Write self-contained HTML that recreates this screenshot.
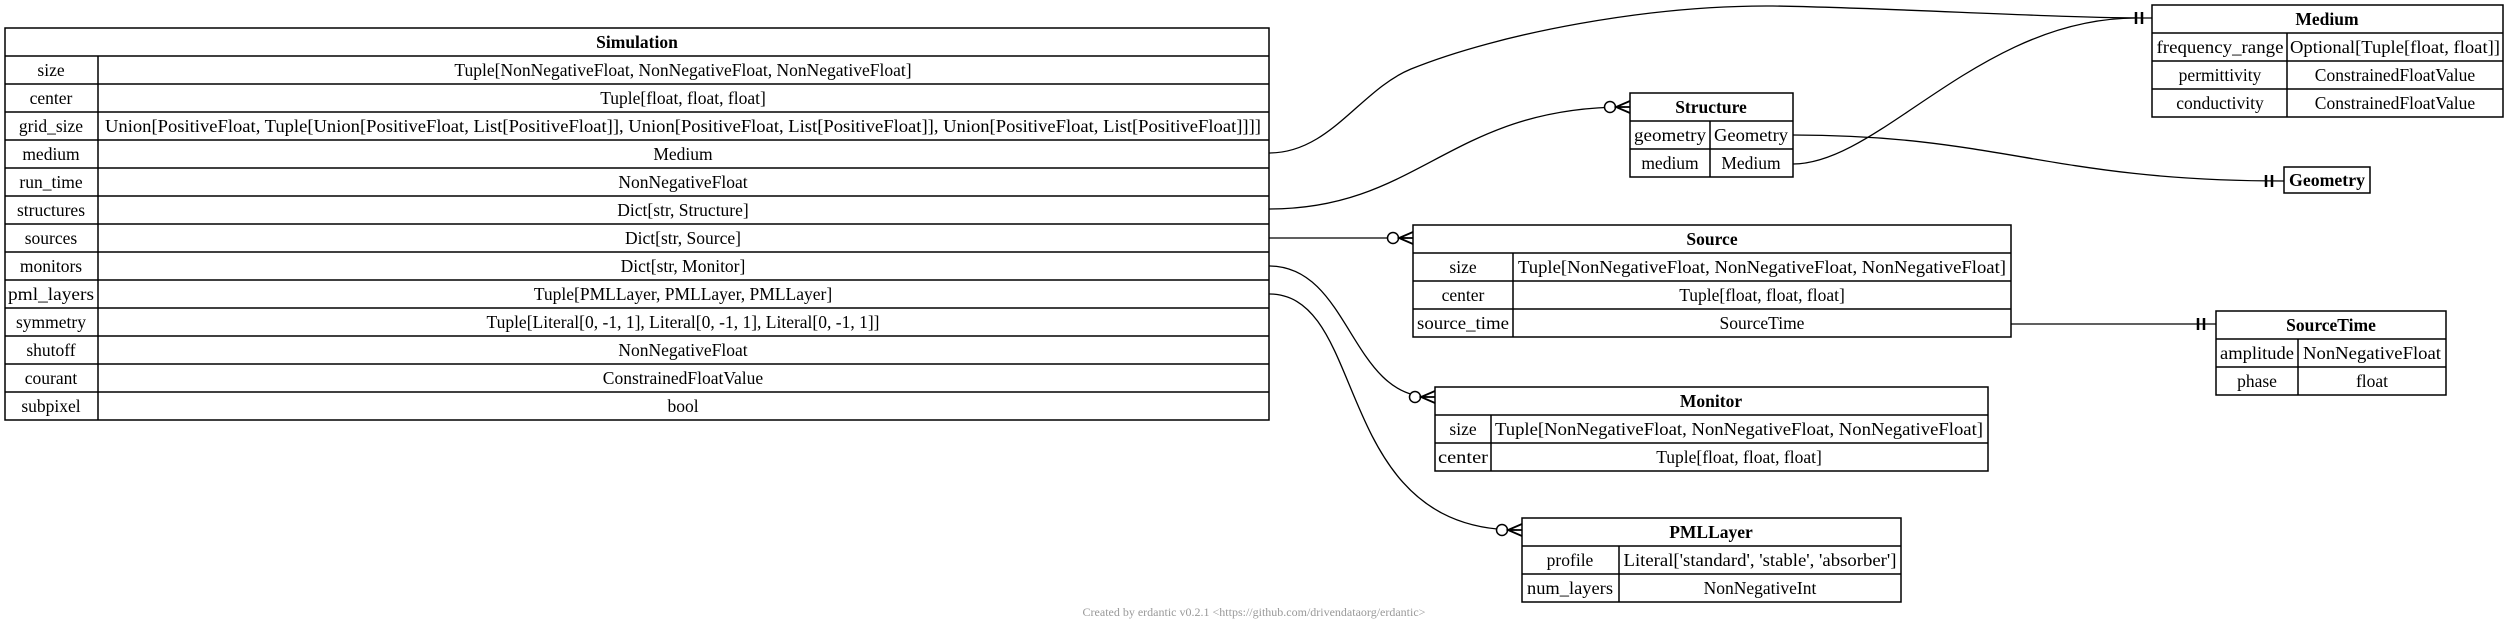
<!DOCTYPE html>
<html><head><meta charset="utf-8"><style>
html,body{margin:0;padding:0;background:#fff;}
svg{display:block;}
text{font-family:"Liberation Serif",serif;font-size:17.5px;fill:#000;}
.b{font-weight:bold;}
.f{font-size:12px;fill:#999;}
</style></head><body>
<svg width="2509" height="631" viewBox="0 0 2509 631" xmlns="http://www.w3.org/2000/svg">
<g fill="none" stroke="#000" stroke-width="1.5">
<rect x="5" y="28" width="1264" height="392"/>
<line x1="5" y1="56" x2="1269" y2="56"/><line x1="5" y1="84" x2="1269" y2="84"/><line x1="5" y1="112" x2="1269" y2="112"/><line x1="5" y1="140" x2="1269" y2="140"/><line x1="5" y1="168" x2="1269" y2="168"/><line x1="5" y1="196" x2="1269" y2="196"/><line x1="5" y1="224" x2="1269" y2="224"/><line x1="5" y1="252" x2="1269" y2="252"/><line x1="5" y1="280" x2="1269" y2="280"/><line x1="5" y1="308" x2="1269" y2="308"/><line x1="5" y1="336" x2="1269" y2="336"/><line x1="5" y1="364" x2="1269" y2="364"/><line x1="5" y1="392" x2="1269" y2="392"/>
<line x1="98" y1="56" x2="98" y2="420"/>
<rect x="2152" y="5" width="351" height="112"/>
<line x1="2152" y1="33" x2="2503" y2="33"/><line x1="2152" y1="61" x2="2503" y2="61"/><line x1="2152" y1="89" x2="2503" y2="89"/>
<line x1="2287" y1="33" x2="2287" y2="117"/>
<rect x="1630" y="93" width="163" height="84"/>
<line x1="1630" y1="121" x2="1793" y2="121"/><line x1="1630" y1="149" x2="1793" y2="149"/>
<line x1="1710" y1="121" x2="1710" y2="177"/>
<rect x="2284" y="167" width="86" height="26"/>
<rect x="1413" y="225" width="598" height="112"/>
<line x1="1413" y1="253" x2="2011" y2="253"/><line x1="1413" y1="281" x2="2011" y2="281"/><line x1="1413" y1="309" x2="2011" y2="309"/>
<line x1="1513" y1="253" x2="1513" y2="337"/>
<rect x="2216" y="311" width="230" height="84"/>
<line x1="2216" y1="339" x2="2446" y2="339"/><line x1="2216" y1="367" x2="2446" y2="367"/>
<line x1="2298" y1="339" x2="2298" y2="395"/>
<rect x="1435" y="387" width="553" height="84"/>
<line x1="1435" y1="415" x2="1988" y2="415"/><line x1="1435" y1="443" x2="1988" y2="443"/>
<line x1="1491" y1="415" x2="1491" y2="471"/>
<rect x="1522" y="518" width="379" height="84"/>
<line x1="1522" y1="546" x2="1901" y2="546"/><line x1="1522" y1="574" x2="1901" y2="574"/>
<line x1="1619" y1="546" x2="1619" y2="602"/>
</g>
<g fill="none" stroke="#000" stroke-width="1.3">
<path d="M1269,153 C1330,153 1360,90 1411,69 C1500,33 1650,5 1773,6 C1900,8 2050,18 2152,18"/>
<path d="M1793,164 C1880,164 1980,18 2136,18"/>
<path d="M1269,209 C1420,209 1450,107 1625,107"/>
<path d="M1269,238 L1408,238"/>
<path d="M1269,266 C1350,266 1350,397 1430,397"/>
<path d="M1269,294 C1370,294 1330,530 1517,530"/>
<path d="M1793,135 C2000,135 2050,181 2284,181"/>
<path d="M2011,324 L2216,324"/>
</g>
<g stroke="#000" stroke-width="2.5">
<line x1="2136" y1="12" x2="2136" y2="24"/><line x1="2142" y1="12" x2="2142" y2="24"/>
<line x1="2266" y1="175" x2="2266" y2="187"/><line x1="2272" y1="175" x2="2272" y2="187"/>
<line x1="2198" y1="318" x2="2198" y2="330"/><line x1="2204" y1="318" x2="2204" y2="330"/>
</g>
<g fill="#fff" stroke="#000" stroke-width="1.5">
<circle cx="1610" cy="107" r="5.5"/>
<circle cx="1393" cy="238" r="5.5"/>
<circle cx="1415" cy="397" r="5.5"/>
<circle cx="1502" cy="530" r="5.5"/>
</g>
<g fill="none" stroke="#000" stroke-width="1.8">
<path d="M1630,101 L1616,107 L1630,113 M1616,107 L1630,107"/>
<path d="M1413,232 L1399,238 L1413,244 M1399,238 L1413,238"/>
<path d="M1435,391 L1421,397 L1435,403 M1421,397 L1435,397"/>
<path d="M1522,524 L1508,530 L1522,536 M1508,530 L1522,530"/>
</g>
<g text-anchor="middle">
<text class="b" x="637" y="48">Simulation</text>
<text x="51" y="76">size</text><text x="683" y="76">Tuple[NonNegativeFloat, NonNegativeFloat, NonNegativeFloat]</text>
<text x="51" y="104">center</text><text x="683" y="104">Tuple[float, float, float]</text>
<text x="51" y="132">grid_size</text><text x="683" y="132" textLength="1156" lengthAdjust="spacingAndGlyphs">Union[PositiveFloat, Tuple[Union[PositiveFloat, List[PositiveFloat]], Union[PositiveFloat, List[PositiveFloat]], Union[PositiveFloat, List[PositiveFloat]]]]</text>
<text x="51" y="160">medium</text><text x="683" y="160">Medium</text>
<text x="51" y="188">run_time</text><text x="683" y="188">NonNegativeFloat</text>
<text x="51" y="216">structures</text><text x="683" y="216">Dict[str, Structure]</text>
<text x="51" y="244">sources</text><text x="683" y="244">Dict[str, Source]</text>
<text x="51" y="272">monitors</text><text x="683" y="272">Dict[str, Monitor]</text>
<text x="51" y="300" textLength="86" lengthAdjust="spacingAndGlyphs">pml_layers</text><text x="683" y="300">Tuple[PMLLayer, PMLLayer, PMLLayer]</text>
<text x="51" y="328">symmetry</text><text x="683" y="328">Tuple[Literal[0, -1, 1], Literal[0, -1, 1], Literal[0, -1, 1]]</text>
<text x="51" y="356">shutoff</text><text x="683" y="356">NonNegativeFloat</text>
<text x="51" y="384">courant</text><text x="683" y="384">ConstrainedFloatValue</text>
<text x="51" y="412">subpixel</text><text x="683" y="412">bool</text>
<text class="b" x="2327" y="25">Medium</text>
<text x="2220" y="53" textLength="127" lengthAdjust="spacingAndGlyphs">frequency_range</text><text x="2395" y="53" textLength="210" lengthAdjust="spacingAndGlyphs">Optional[Tuple[float, float]]</text>
<text x="2220" y="81">permittivity</text><text x="2395" y="81">ConstrainedFloatValue</text>
<text x="2220" y="109">conductivity</text><text x="2395" y="109">ConstrainedFloatValue</text>
<text class="b" x="1711" y="113">Structure</text>
<text x="1670" y="141" textLength="72" lengthAdjust="spacingAndGlyphs">geometry</text><text x="1751" y="141" textLength="74" lengthAdjust="spacingAndGlyphs">Geometry</text>
<text x="1670" y="169">medium</text><text x="1751" y="169">Medium</text>
<text class="b" x="2327" y="186" textLength="76" lengthAdjust="spacingAndGlyphs">Geometry</text>
<text class="b" x="1712" y="245">Source</text>
<text x="1463" y="273">size</text><text x="1762" y="273" textLength="488" lengthAdjust="spacingAndGlyphs">Tuple[NonNegativeFloat, NonNegativeFloat, NonNegativeFloat]</text>
<text x="1463" y="301">center</text><text x="1762" y="301">Tuple[float, float, float]</text>
<text x="1463" y="329" textLength="92" lengthAdjust="spacingAndGlyphs">source_time</text><text x="1762" y="329">SourceTime</text>
<text class="b" x="2331" y="331">SourceTime</text>
<text x="2257" y="359" textLength="74" lengthAdjust="spacingAndGlyphs">amplitude</text><text x="2372" y="359" textLength="138" lengthAdjust="spacingAndGlyphs">NonNegativeFloat</text>
<text x="2257" y="387">phase</text><text x="2372" y="387">float</text>
<text class="b" x="1711" y="407">Monitor</text>
<text x="1463" y="435">size</text><text x="1739" y="435" textLength="488" lengthAdjust="spacingAndGlyphs">Tuple[NonNegativeFloat, NonNegativeFloat, NonNegativeFloat]</text>
<text x="1463" y="463" textLength="50" lengthAdjust="spacingAndGlyphs">center</text><text x="1739" y="463">Tuple[float, float, float]</text>
<text class="b" x="1711" y="538">PMLLayer</text>
<text x="1570" y="566">profile</text><text x="1760" y="566" textLength="273" lengthAdjust="spacingAndGlyphs">Literal['standard', 'stable', 'absorber']</text>
<text x="1570" y="594" textLength="86" lengthAdjust="spacingAndGlyphs">num_layers</text><text x="1760" y="594">NonNegativeInt</text>
<text class="f" x="1254" y="616">Created by erdantic v0.2.1 &lt;https://github.com/drivendataorg/erdantic&gt;</text>
</g>
</svg>
</body></html>
